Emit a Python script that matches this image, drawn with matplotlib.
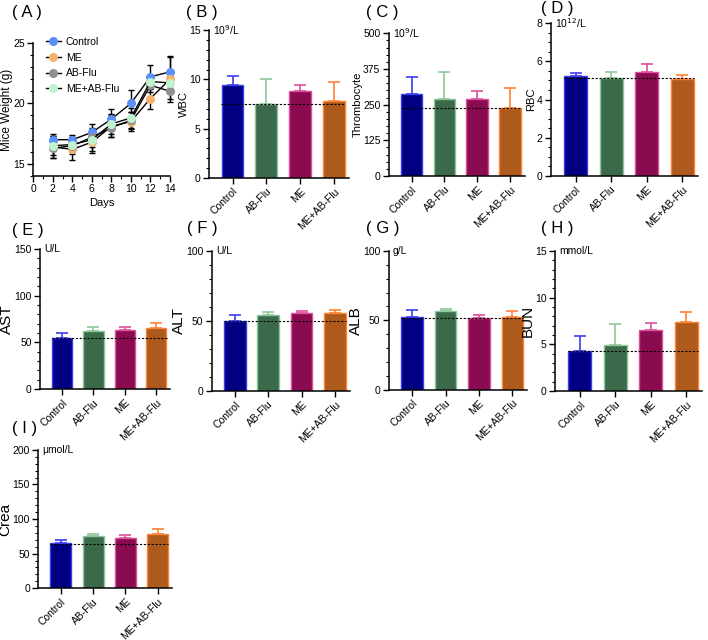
import numpy as np
import matplotlib
matplotlib.use("Agg")
from matplotlib import pyplot as plt
from matplotlib.lines import Line2D
from matplotlib.ticker import MultipleLocator

plt.rcParams['font.family'] = ['Liberation Sans', 'DejaVu Sans']

# ---- panel A: body weight over time ----
days = [2, 4, 6, 8, 10, 12, 14]
w_control = [17.0, 17.0, 17.6, 18.7, 20.0, 22.2, 22.6]
w_control_sd = [0.5, 0.4, 0.7, 0.8, 1.1, 1.0, 1.2]
w_me = [16.4, 16.2, 16.8, 18.1, 18.5, 20.4, 22.0]
w_me_sd = [0.9, 0.9, 0.9, 0.9, 0.8, 0.9, 1.9]
w_abflu = [16.3, 16.5, 17.2, 18.0, 18.6, 21.5, 21.0]
w_abflu_sd = [0.8, 0.7, 0.8, 0.8, 0.7, 0.6, 0.6]
w_mixed = [16.5, 16.6, 17.0, 18.3, 18.8, 21.8, 21.7]
w_mixed_sd = [0.8, 0.6, 0.9, 0.8, 0.8, 0.5, 0.6]

# ---- bar panels ----
groups = ['Control', 'AB-Flu', 'ME', 'ME+AB-Flu']
wbc = [9.4, 7.5, 8.8, 7.8]
wbc_sd = [0.9, 2.5, 0.6, 1.9]
plt_count = [288, 271, 270, 237]
plt_sd = [59, 94, 29, 70]
rbc = [5.22, 5.12, 5.43, 5.07]
rbc_sd = [0.18, 0.33, 0.42, 0.21]
ast = [54.5, 62, 63.5, 65.5]
ast_sd = [5.5, 5, 3.5, 5.5]
alt = [50, 54.5, 55.5, 55.5]
alt_sd = [4, 2, 1.5, 2.5]
alb = [52.5, 57, 51.5, 52.5]
alb_sd = [5, 1, 2.5, 4]
bun = [4.3, 4.95, 6.55, 7.35]
bun_sd = [1.6, 2.2, 0.75, 1.15]
crea = [65, 75, 73, 78]
crea_sd = [5, 3, 4, 7]

# dashed reference levels
ref_wbc, ref_plt, ref_rbc = 7.45, 237, 5.1
ref_ast, ref_alt, ref_alb, ref_bun, ref_crea = 54.5, 50, 51.5, 4.25, 64

face = ['#000080', '#3b6a4a', '#8a0b4f', '#ad5a1c']
edge = ['#3c3cf0', '#8cc79a', '#dd4f98', '#ff8235']

fig = plt.figure(figsize=(7.08, 6.4), dpi=100)


def style(ax, major, minor, ylim, ylabel, unit, lsize=8):
    ax.set_ylim(*ylim)
    ax.yaxis.set_major_locator(MultipleLocator(major))
    ax.yaxis.set_minor_locator(MultipleLocator(minor))
    for s in ['top', 'right']:
        ax.spines[s].set_visible(False)
    for s in ['left', 'bottom']:
        ax.spines[s].set_linewidth(1.1)
    ax.tick_params(axis='both', which='major', length=4, width=1, labelsize=7.5, pad=2)
    ax.tick_params(axis='y', which='minor', length=2.5, width=0.8)
    ax.set_ylabel(ylabel, fontsize=lsize, labelpad=0)
    if unit:
        ax.text(0.03, 1.0, unit, transform=ax.transAxes, fontsize=7.5, va='center')


def bar_panel(rect, vals, sds, ref, major, minor, ylim, ylabel, unit, lsize=8):
    ax = fig.add_axes(rect)
    x = np.arange(len(groups))
    for i in x:
        ax.bar(x[i], vals[i], width=0.65, color=face[i], edgecolor=edge[i],
               linewidth=1, zorder=2)
        ax.errorbar(x[i], vals[i], yerr=[[0], [sds[i]]], color=edge[i],
                    capsize=4, elinewidth=1.2, capthick=1.2, zorder=1)
    ax.plot([-0.33, 3.33], [ref, ref], ls=(0, (2, 1.5)), color='black', lw=0.8, zorder=3)
    ax.set_xlim(-0.7, 3.45)
    ax.set_xticks(x)
    ax.set_xticklabels(groups, rotation=45, ha='right', rotation_mode='anchor', fontsize=6.8)
    style(ax, major, minor, ylim, ylabel, unit, lsize)
    return ax


# panel A
axA = fig.add_axes([0.047, 0.725, 0.193, 0.208])
series = [('Control', w_control, w_control_sd, '#5b8ff9'),
          ('ME', w_me, w_me_sd, '#f5b46c'),
          ('AB-Flu', w_abflu, w_abflu_sd, '#8f8f8f'),
          ('ME+AB-Flu', w_mixed, w_mixed_sd, '#bff2cf')]
handles = []
for name, y, e, c in series:
    axA.errorbar(days, y, yerr=e, color='black', lw=1, capsize=2.5, elinewidth=1,
                 marker='o', markersize=5.5, markerfacecolor=c, markeredgecolor=c,
                 clip_on=False)
    handles.append(Line2D([], [], color='black', lw=1, marker='o', markersize=5.5,
                          markerfacecolor=c, markeredgecolor=c, label=name))
axA.set_xlim(0, 14)
axA.xaxis.set_major_locator(MultipleLocator(2))
axA.xaxis.set_minor_locator(MultipleLocator(1))
axA.tick_params(axis='x', which='minor', length=2.5, width=0.8)
style(axA, 5, 1, (14, 25), 'Mice Weight (g)', None, 8.5)
axA.set_xlabel('Days', fontsize=8, labelpad=3)
axA.legend(handles=handles, loc='upper left', frameon=False, fontsize=7.5,
           bbox_to_anchor=(0.04, 1.1), handlelength=1.4, handletextpad=0.5,
           borderpad=0.2, labelspacing=0.55)

bar_panel([0.295, 0.722, 0.198, 0.231], wbc, wbc_sd, ref_wbc, 5, 1, (0, 15), 'WBC', '10$^9$/L')
bar_panel([0.549, 0.725, 0.192, 0.223], plt_count, plt_sd, ref_plt, 125, 25, (0, 500),
          'Thrombocyte', '10$^9$/L')
bar_panel([0.778, 0.725, 0.208, 0.239], rbc, rbc_sd, ref_rbc, 2, 0.5, (0, 8), 'RBC', '10$^{12}$/L')
bar_panel([0.0565, 0.392, 0.184, 0.219], ast, ast_sd, ref_ast, 50, 10, (0, 150), 'AST', 'U/L', 11)
bar_panel([0.299, 0.389, 0.195, 0.219], alt, alt_sd, ref_alt, 50, 10, (0, 100), 'ALT', 'U/L', 11)
bar_panel([0.549, 0.391, 0.196, 0.217], alb, alb_sd, ref_alb, 50, 10, (0, 100), 'ALB', 'g/L', 11)
bar_panel([0.784, 0.389, 0.208, 0.219], bun, bun_sd, ref_bun, 5, 1, (0, 15), 'BUN', 'mmol/L', 11)
bar_panel([0.054, 0.081, 0.189, 0.216], crea, crea_sd, ref_crea, 50, 10, (0, 200), 'Crea', 'μmol/L', 11)

# panel letters
letters = [('( A )', 12, 12), ('( B )', 186, 12), ('( C )', 366, 12), ('( D )', 541, 9),
           ('( E )', 12, 230), ('( F )', 187, 229), ('( G )', 366, 229), ('( H )', 541, 229),
           ('( I )', 12, 428)]
for t, x, y in letters:
    fig.text(x / 708, 1 - y / 640, t, fontsize=12, va='center')

fig.savefig('out.png', dpi=100)
